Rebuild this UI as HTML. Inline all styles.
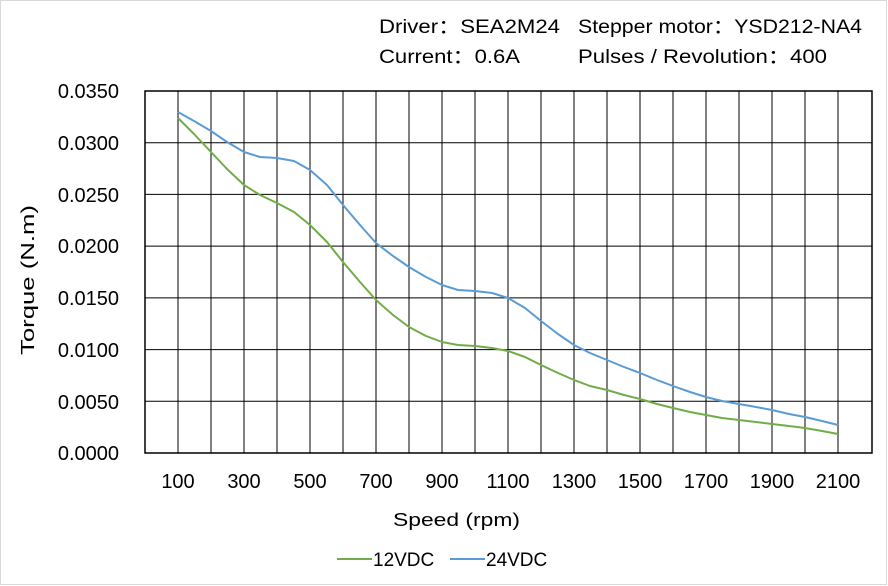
<!DOCTYPE html>
<html><head><style>
body{margin:0;background:#fff;}
svg{display:block;font-family:"Liberation Sans","Noto Sans CJK SC",sans-serif;}
</style></head><body>
<svg width="888" height="586" viewBox="0 0 888 586">
<rect x="0.5" y="0.5" width="886" height="584" fill="#fff" stroke="#d9d9d9"/>
<g font-size="19" fill="#000">
<text x="379" y="33" textLength="181" lengthAdjust="spacingAndGlyphs">Driver：SEA2M24</text>
<text x="578" y="33" textLength="284" lengthAdjust="spacingAndGlyphs">Stepper  motor：YSD212-NA4</text>
<text x="379" y="63" textLength="141" lengthAdjust="spacingAndGlyphs">Current：0.6A</text>
<text x="578" y="63" textLength="249" lengthAdjust="spacingAndGlyphs">Pulses / Revolution：400</text>
</g>
<g stroke="#000" stroke-width="1">
<line x1="145" y1="142.7" x2="872" y2="142.7"/>
<line x1="145" y1="194.4" x2="872" y2="194.4"/>
<line x1="145" y1="246.1" x2="872" y2="246.1"/>
<line x1="145" y1="297.9" x2="872" y2="297.9"/>
<line x1="145" y1="349.6" x2="872" y2="349.6"/>
<line x1="145" y1="401.3" x2="872" y2="401.3"/>
<line x1="178" y1="91" x2="178" y2="453"/><line x1="211" y1="91" x2="211" y2="453"/><line x1="244" y1="91" x2="244" y2="453"/><line x1="277" y1="91" x2="277" y2="453"/><line x1="310" y1="91" x2="310" y2="453"/><line x1="343" y1="91" x2="343" y2="453"/><line x1="376" y1="91" x2="376" y2="453"/><line x1="409" y1="91" x2="409" y2="453"/><line x1="442" y1="91" x2="442" y2="453"/><line x1="475" y1="91" x2="475" y2="453"/><line x1="508" y1="91" x2="508" y2="453"/><line x1="541" y1="91" x2="541" y2="453"/><line x1="574" y1="91" x2="574" y2="453"/><line x1="607" y1="91" x2="607" y2="453"/><line x1="640" y1="91" x2="640" y2="453"/><line x1="673" y1="91" x2="673" y2="453"/><line x1="706" y1="91" x2="706" y2="453"/><line x1="739" y1="91" x2="739" y2="453"/><line x1="772" y1="91" x2="772" y2="453"/><line x1="805" y1="91" x2="805" y2="453"/><line x1="838" y1="91" x2="838" y2="453"/>
</g>
<rect x="145" y="91" width="727" height="362" fill="none" stroke="#000" stroke-width="1.5"/>
<polyline fill="none" stroke="#70ad47" stroke-width="2" stroke-linejoin="round" points="178,118 194,134 211,152 227,169 244,185 260,195 277,203 294,212 310,225 327,242 343,262 360,282 376,300 393,315 409,327 426,336 442,342 458,345 475,346 492,348 508,351 525,357 541,365 558,373 574,380 590,386 607,390 624,395 640,399 657,404 673,408 690,412 706,415 722,418 739,420 756,422 772,424 789,426 805,428 822,431 838,434"/>
<polyline fill="none" stroke="#5b9bd5" stroke-width="2" stroke-linejoin="round" points="178,112 194,121 211,131 227,142 244,152 260,157 277,158 294,161 310,170 327,185 343,205 360,225 376,243 393,256 409,267 426,277 442,285 458,290 475,291 492,293 508,298 525,308 541,321 558,334 574,345 590,353 607,360 624,367 640,373 657,380 673,386 690,392 706,397 722,401 739,404 756,407 772,410 789,414 805,417 822,421 838,425"/>
<g font-size="20" text-anchor="end">
<text x="119" y="98">0.0350</text><text x="119" y="150">0.0300</text><text x="119" y="202">0.0250</text><text x="119" y="253">0.0200</text><text x="119" y="305">0.0150</text><text x="119" y="357">0.0100</text><text x="119" y="409">0.0050</text><text x="119" y="460">0.0000</text>
</g>
<g font-size="20" text-anchor="middle">
<text x="178" y="488">100</text><text x="244" y="488">300</text><text x="310" y="488">500</text><text x="376" y="488">700</text><text x="442" y="488">900</text><text x="508" y="488">1100</text><text x="574" y="488">1300</text><text x="640" y="488">1500</text><text x="706" y="488">1700</text><text x="772" y="488">1900</text><text x="838" y="488">2100</text>
</g>
<text x="393" y="526" font-size="18" textLength="127" lengthAdjust="spacingAndGlyphs">Speed  (rpm)</text>
<text transform="translate(34,355) rotate(-90)" font-size="18" textLength="150" lengthAdjust="spacingAndGlyphs">Torque (N.m)</text>
<line x1="337" y1="559" x2="372" y2="559" stroke="#70ad47" stroke-width="2"/>
<text x="373" y="566" font-size="19">12VDC</text>
<line x1="450" y1="559" x2="485" y2="559" stroke="#5b9bd5" stroke-width="2"/>
<text x="486" y="566" font-size="19">24VDC</text>
</svg>
</body></html>
